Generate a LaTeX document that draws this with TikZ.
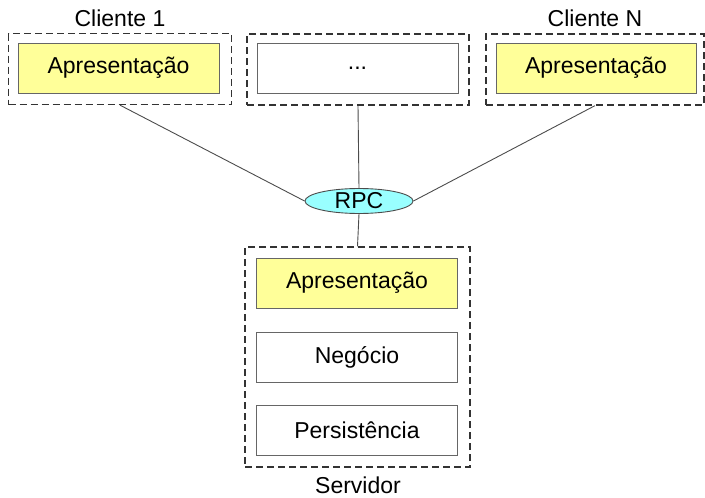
\documentclass[tikz,border=0pt]{standalone}
\usepackage{fontspec}
\setmainfont{Liberation Sans}
\usetikzlibrary{shapes.geometric}
\definecolor{camada}{RGB}{255,255,153}
\definecolor{rpcfill}{RGB}{153,255,255}
\begin{document}
\begin{tikzpicture}[x=1pt, y=-1pt,
    font=\fontsize{23}{27}\selectfont,
    grupo/.style={rectangle, draw=black!80, line width=1.3pt, dash pattern=on 7pt off 4pt, inner sep=0pt},
    camadabox/.style={rectangle, draw=black!60, line width=0.9pt, fill=white, minimum width=201pt, minimum height=50pt, inner sep=0pt},
    lig/.style={draw=black!70, line width=0.9pt}
]
    \useasboundingbox (0,0) rectangle (705,498);

    \node[grupo, minimum width=223pt, minimum height=71pt] at (120,69) (c1) {};
    \node[grupo, minimum width=222pt, minimum height=71pt] at (358,69.5) (cm) {};
    \node[grupo, minimum width=218pt, minimum height=71pt] at (595,69.5) (cn) {};
    \node[grupo, minimum width=225pt, minimum height=220pt] at (357.5,357) (srv) {};

    \node[camadabox, fill=camada] at (118.5,68) (c1ap) {Apresentação};
    \node[camadabox] at (357.5,68) (cmap) {...};
    \node[camadabox, fill=camada, minimum width=200pt] at (596,68) (cnap) {Apresentação};

    \node[camadabox, fill=camada] at (357,283) (srvap) {Apresentação};
    \node[camadabox] at (357,357) (srvneg) {Negócio};
    \node[camadabox] at (357,430.5) (srvper) {Persistência};

    \node at (120,18) (lc1) {Cliente 1};
    \node at (595,18) (lcn) {Cliente N};
    \node at (358,485) (lsrv) {Servidor};

    \node[ellipse, draw=black!70, line width=0.9pt, fill=rpcfill, minimum width=108pt, minimum height=25pt, inner sep=0pt] at (359,201) (rpc) {RPC};

    \draw[lig] (c1.south) -- (rpc.west);
    \draw[lig] (cm.south) -- (rpc.north);
    \draw[lig] (cn.south) -- (rpc.east);
    \draw[lig] (rpc.south) -- (srv.north);
\end{tikzpicture}
\end{document}
